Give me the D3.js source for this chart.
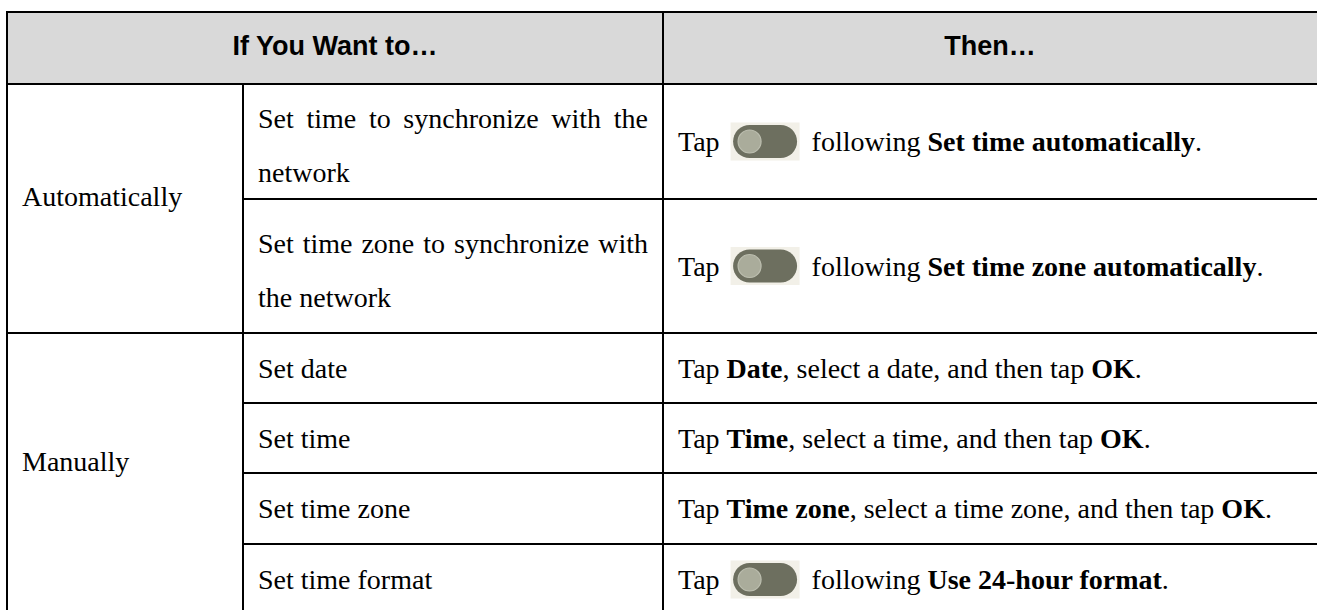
<!DOCTYPE html>
<html>
<head>
<meta charset="utf-8">
<script src="https://cdn.jsdelivr.net/npm/d3@7"></script>
<style>
  html, body { margin: 0; padding: 0; background: #ffffff; }
  svg { display: block; }
</style>
</head>
<body>
<svg id="chart" width="1317" height="610"></svg>
<script>
// ---------------- data ----------------
const headers = ["If You Want to…", "Then…"];
const groupNames = ["Automatically", "Manually"];
const groupRowCounts = [2, 4];
const actions = [
  ["Set time to synchronize with the", "network"],
  ["Set time zone to synchronize with", "the network"],
  ["Set date"],
  ["Set time"],
  ["Set time zone"],
  ["Set time format"]
];
// instruction runs: [text, bold] ; "TOGGLE" = switch icon
const instructions = [
  [["Tap", 0], ["TOGGLE", 0], ["following ", 0], ["Set time automatically", 1], [".", 0]],
  [["Tap", 0], ["TOGGLE", 0], ["following ", 0], ["Set time zone automatically", 1], [".", 0]],
  [["Tap ", 0], ["Date", 1], [", select a date, and then tap ", 0], ["OK", 1], [".", 0]],
  [["Tap ", 0], ["Time", 1], [", select a time, and then tap ", 0], ["OK", 1], [".", 0]],
  [["Tap ", 0], ["Time zone", 1], [", select a time zone, and then tap ", 0], ["OK", 1], [".", 0]],
  [["Tap", 0], ["TOGGLE", 0], ["following ", 0], ["Use 24-hour format", 1], [".", 0]]
];

// ---------------- layout ----------------
const colEdges = [7, 243, 663, 1322];
const tableTop = 12, headerBottom = 84;
const rowEdges = [84, 199, 333, 403, 473, 544, 615];
const serif = "'Liberation Serif', 'Times New Roman', serif";
const sans = "'Liberation Sans', Arial, sans-serif";
const fs = 28, lineH = 54, pad = 15;

const svg = d3.select("#chart");

// header background
svg.append("rect").attr("x", colEdges[0]).attr("y", tableTop)
  .attr("width", colEdges[3] - colEdges[0]).attr("height", headerBottom - tableTop)
  .attr("fill", "#d9d9d9");

// header text
const headerSpans = [[colEdges[0], colEdges[2]], [colEdges[2], colEdges[3] - 5]];
svg.selectAll("text.hdr").data(headers).join("text")
  .attr("class", "hdr")
  .attr("x", (d, i) => (headerSpans[i][0] + headerSpans[i][1]) / 2)
  .attr("y", 55)
  .attr("text-anchor", "middle")
  .attr("font-family", sans).attr("font-weight", "bold").attr("font-size", 27)
  .attr("fill", "#000")
  .text(d => d);

// group labels
let start = 0;
const groupSpans = groupRowCounts.map(c => { const s = [rowEdges[start], rowEdges[start + c]]; start += c; return s; });
svg.selectAll("text.grp").data(groupNames).join("text")
  .attr("class", "grp")
  .attr("x", colEdges[0] + pad)
  .attr("y", (d, i) => (groupSpans[i][0] + groupSpans[i][1]) / 2 - 3)
  .attr("font-family", serif).attr("font-size", fs).attr("fill", "#000")
  .text(d => d);

// action texts (justified first line when wrapped)
const col2W = colEdges[2] - colEdges[1] - 2 * pad;
actions.forEach((lines, r) => {
  const cy = (rowEdges[r] + rowEdges[r + 1]) / 2 + (lines.length > 1 ? 4 : 0);
  lines.forEach((ln, li) => {
    const y = cy - (lines.length - 1) * lineH / 2 + li * lineH + 9.5;
    const t = svg.append("text")
      .attr("x", colEdges[1] + pad).attr("y", y)
      .attr("font-family", serif).attr("font-size", fs).attr("fill", "#000")
      .attr("xml:space", "preserve")
      .text(ln);
    if (lines.length > 1 && li < lines.length - 1) {
      const w = t.node().getComputedTextLength();
      const gaps = ln.split(" ").length - 1;
      if (gaps > 0) t.attr("word-spacing", (col2W - w) / gaps);
    }
  });
});

// instructions
function drawToggle(g, x, cy) {
  const bw = 69, bh = 38, pw = 64, ph = 33;
  g.append("rect").attr("x", x).attr("y", cy - bh / 2).attr("width", bw).attr("height", bh).attr("fill", "#f2f0e8");
  const px = x + (bw - pw) / 2;
  g.append("rect").attr("x", px).attr("y", cy - ph / 2).attr("width", pw).attr("height", ph)
    .attr("rx", ph / 2).attr("fill", "#6d6f5f");
  g.append("circle").attr("cx", px + ph / 2).attr("cy", cy).attr("r", 11.5)
    .attr("fill", "#aaac9b").attr("stroke", "#bcbeaf").attr("stroke-width", 1.2);
  return bw;
}
instructions.forEach((runs, r) => {
  const cy = (rowEdges[r] + rowEdges[r + 1]) / 2;
  const g = svg.append("g");
  let x = colEdges[2] + pad;
  runs.forEach(([txt, b]) => {
    if (txt === "TOGGLE") {
      x += 11;
      x += drawToggle(g, x, cy);
      x += 12;
      return;
    }
    const t = g.append("text").attr("x", x).attr("y", cy + 9.5)
      .attr("font-family", serif).attr("font-size", fs).attr("fill", "#000")
      .attr("font-weight", b ? "bold" : "normal")
      .attr("xml:space", "preserve").text(txt);
    x += t.node().getComputedTextLength();
  });
});

// grid lines
const lw = 2;
const lines = [];
lines.push([colEdges[0], tableTop, colEdges[3], tableTop]);
lines.push([colEdges[0], headerBottom, colEdges[3], headerBottom]);
lines.push([colEdges[0], rowEdges[2], colEdges[3], rowEdges[2]]);
[1, 3, 4, 5].forEach(i => lines.push([colEdges[1], rowEdges[i], colEdges[3], rowEdges[i]]));
lines.push([colEdges[0], rowEdges[6], colEdges[3], rowEdges[6]]);
lines.push([colEdges[0], tableTop, colEdges[0], rowEdges[6]]);
lines.push([colEdges[1], headerBottom, colEdges[1], rowEdges[6]]);
lines.push([colEdges[2], tableTop, colEdges[2], rowEdges[6]]);
svg.selectAll("line.grid").data(lines).join("line")
  .attr("class", "grid")
  .attr("x1", d => d[0]).attr("y1", d => d[1]).attr("x2", d => d[2]).attr("y2", d => d[3])
  .attr("stroke", "#000").attr("stroke-width", lw).attr("stroke-linecap", "square");
</script>
</body>
</html>
